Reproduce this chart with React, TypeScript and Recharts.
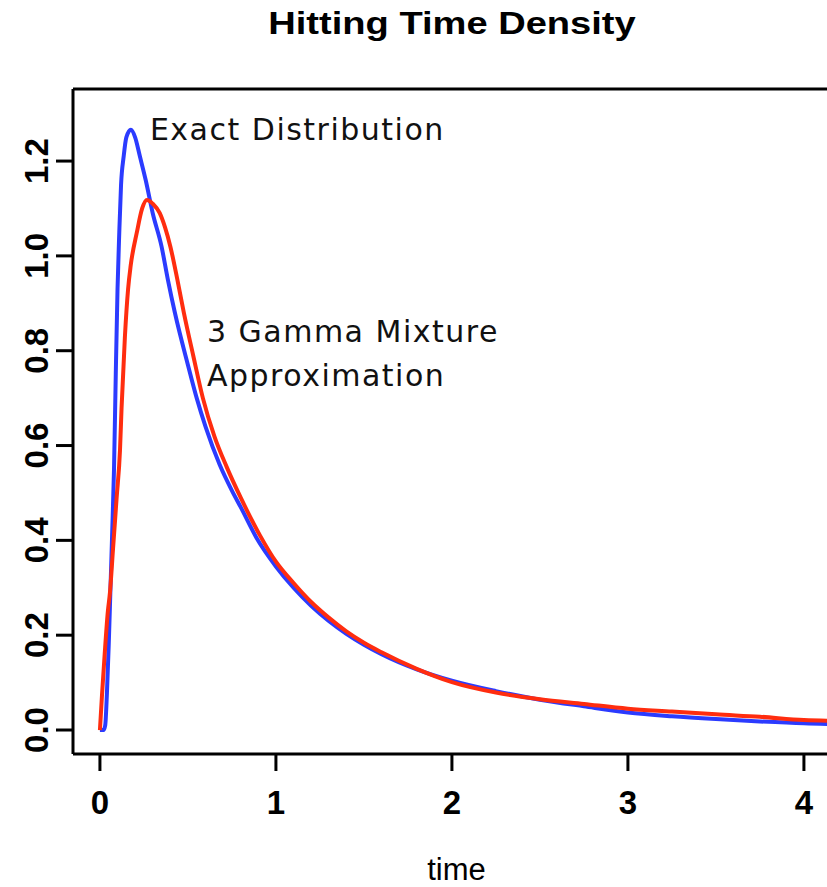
import { LineChart, Line, XAxis, YAxis, ReferenceDot, ReferenceLine } from 'recharts';

// exact hitting time density (blue)
const exactTime = [0, 0.02, 0.03, 0.04, 0.05, 0.06, 0.07, 0.08, 0.09, 0.1, 0.11, 0.12, 0.135, 0.15, 0.176, 0.2, 0.227, 0.26, 0.3, 0.35, 0.386, 0.426, 0.5, 0.55, 0.6, 0.68, 0.75, 0.8, 0.89, 1.0, 1.1, 1.2, 1.3, 1.4, 1.5, 1.6, 1.8, 2.0, 2.25, 2.5, 2.75, 3.0, 3.25, 3.5, 3.75, 4.0, 4.25];
const exactDensity = [0, 0, 0.01, 0.08, 0.18, 0.3, 0.42, 0.55, 0.75, 0.93, 1.05, 1.15, 1.21, 1.25, 1.266, 1.25, 1.21, 1.16, 1.09, 1.02, 0.95, 0.88, 0.77, 0.7, 0.64, 0.56, 0.505, 0.47, 0.405, 0.345, 0.3, 0.262, 0.23, 0.203, 0.18, 0.16, 0.128, 0.104, 0.082, 0.064, 0.05, 0.037, 0.029, 0.023, 0.018, 0.014, 0.012];

// 3 gamma mixture approximation (red)
const gammaTime = [0, 0.012, 0.027, 0.045, 0.057, 0.074, 0.095, 0.114, 0.123, 0.142, 0.16, 0.175, 0.21, 0.24, 0.267, 0.3, 0.34, 0.37, 0.4, 0.44, 0.477, 0.53, 0.585, 0.65, 0.72, 0.8, 0.91, 1.0, 1.1, 1.2, 1.3, 1.4, 1.5, 1.6, 1.8, 2.0, 2.25, 2.5, 2.75, 3.0, 3.25, 3.5, 3.75, 4.0, 4.25];
const gammaDensity = [0, 0.075, 0.16, 0.25, 0.29, 0.38, 0.49, 0.59, 0.68, 0.83, 0.93, 0.98, 1.05, 1.1, 1.118, 1.11, 1.09, 1.06, 1.02, 0.95, 0.88, 0.79, 0.7, 0.62, 0.555, 0.49, 0.41, 0.355, 0.31, 0.27, 0.237, 0.208, 0.184, 0.164, 0.129, 0.101, 0.079, 0.065, 0.055, 0.045, 0.039, 0.033, 0.028, 0.021, 0.019];

const xTicks = [0, 1, 2, 3, 4];
const yTicks = [0, 0.2, 0.4, 0.6, 0.8, 1.0, 1.2];

const exactData = exactTime.map((t, i) => ({ time: t, density: exactDensity[i] }));
const gammaData = gammaTime.map((t, i) => ({ time: t, density: gammaDensity[i] }));

const xDomain = [-0.153, 4.205];
const yDomain = [-0.0506, 1.352];

const sans = '"Liberation Sans", Arial, Helvetica, sans-serif';
const annoFont = '"DejaVu Sans", sans-serif';

const annoLabel = (text: string) => ({
  value: text,
  position: 'right' as const,
  offset: 0,
  fontSize: 30,
  fontFamily: annoFont,
  letterSpacing: 1.5,
  fill: '#111',
});

const YTick = (props: any) => {
  const { x, y, payload } = props;
  return (
    <text
      x={x}
      y={y}
      transform={`rotate(-90, ${x}, ${y})`}
      textAnchor="middle"
      fontSize={33}
      fontWeight="bold"
      fontFamily={sans}
      fill="#000"
    >
      {Number(payload.value).toFixed(1)}
    </text>
  );
};

const App = () => {
  return (
    <div style={{ position: 'absolute', left: 0, top: 0, width: 827, height: 887, overflow: 'hidden', background: '#fff' }}>
      <div
        style={{
          position: 'absolute',
          left: 0,
          top: 7,
          width: 904,
          textAlign: 'center',
          fontFamily: sans,
          fontWeight: 'bold',
          fontSize: 32,
          lineHeight: '32px',
          transform: 'scaleX(1.19)',
          transformOrigin: '452px 0',
        }}
      >
        Hitting Time Density
      </div>
      <LineChart width={840} height={887} margin={{ top: 89, right: 0, left: 0, bottom: 0 }}>
        <XAxis
          type="number"
          dataKey="time"
          domain={xDomain}
          allowDataOverflow
          ticks={xTicks}
          height={133}
          tickSize={17}
          tickMargin={20}
          tickLine={{ stroke: '#000', strokeWidth: 3 }}
          axisLine={{ stroke: '#000', strokeWidth: 3 }}
          tick={{ fontSize: 33, fontWeight: 'bold', fontFamily: sans, fill: '#000' }}
          label={{ value: 'time', position: 'insideBottom', offset: 7, fontSize: 31, fontFamily: sans, fill: '#000' }}
        />
        <YAxis
          type="number"
          domain={yDomain}
          allowDataOverflow
          ticks={yTicks}
          width={73}
          tickSize={17}
          tickMargin={8}
          tickLine={{ stroke: '#000', strokeWidth: 3 }}
          axisLine={{ stroke: '#000', strokeWidth: 3 }}
          tick={<YTick />}
        />
        {/* top edge of the plot box */}
        <ReferenceLine y={yDomain[1]} stroke="#000" strokeWidth={3} />
        <Line
          data={exactData}
          dataKey="density"
          type="monotone"
          stroke="#2b3bff"
          strokeWidth={4}
          dot={false}
          isAnimationActive={false}
        />
        <Line
          data={gammaData}
          dataKey="density"
          type="monotone"
          stroke="#ff2d0f"
          strokeWidth={4}
          dot={false}
          isAnimationActive={false}
        />
        <ReferenceDot x={0.284} y={1.266} r={0} stroke="none" label={annoLabel('Exact Distribution')} />
        <ReferenceDot x={0.608} y={0.84} r={0} stroke="none" label={annoLabel('3 Gamma Mixture')} />
        <ReferenceDot x={0.608} y={0.747} r={0} stroke="none" label={annoLabel('Approximation')} />
      </LineChart>
    </div>
  );
};

export default App;
